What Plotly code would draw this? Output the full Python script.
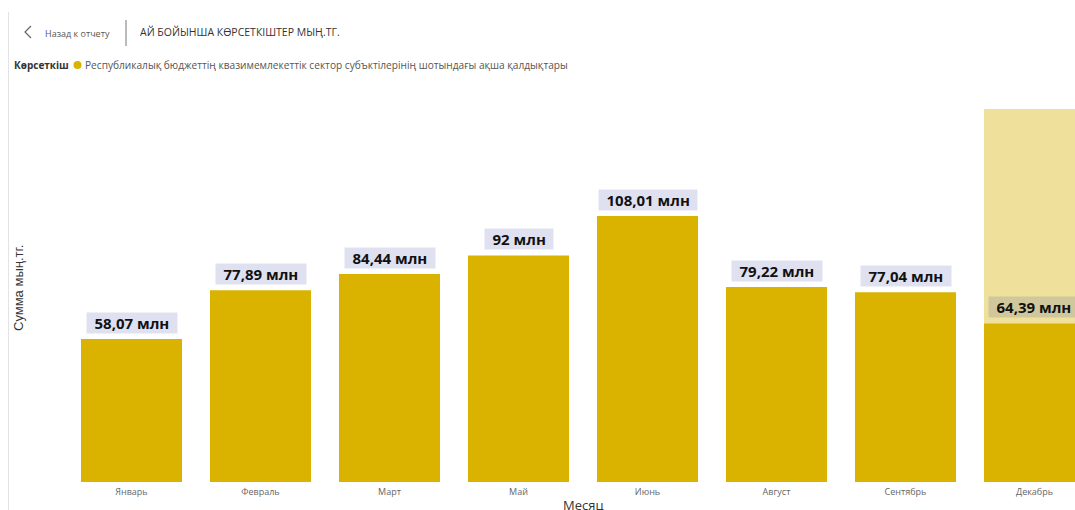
import plotly.graph_objects as go

months = ["Январь", "Февраль", "Март", "Май", "Июнь", "Август", "Сентябрь", "Декабрь"]
values = [58.07, 77.89, 84.44, 92, 108.01, 79.22, 77.04, 64.39]
labels = ["58,07 млн", "77,89 млн", "84,44 млн", "92 млн", "108,01 млн", "79,22 млн", "77,04 млн", "64,39 млн"]
highlighted = "Декабрь"

FONT = "Segoe UI, Open Sans, sans-serif"
BAR = "#D9B300"
HILITE = "#EFE09C"

W, H = 1075, 510
# plot area on screen: x 67..1075, y 109..482
SX0, SX1, SY0, SY1 = 67, 1075, 109, 482
L, R, T, B = SX0, W - SX1, SY0, H - SY1
BARGAP = 0.217


def px(sx):
    return (sx - SX0) / (SX1 - SX0)


def py(sy):
    return (SY1 - sy) / (SY1 - SY0)


fig = go.Figure()
fig.add_trace(go.Bar(
    x=list(range(len(months))), y=values, marker=dict(color=BAR, line=dict(width=0)),
    hoverinfo="skip", showlegend=False,
))

# highlighted column band (hover highlight in the original)
hi = months.index(highlighted)
half = (1 - BARGAP) / 2
fig.add_shape(type="rect", xref="x", yref="paper", x0=hi - half, x1=hi + half, y0=0, y1=1,
              fillcolor=HILITE, line=dict(width=0), layer="below")

PAD = "\u2002"
for i, (v, lab, m) in enumerate(zip(values, labels, months)):
    fig.add_annotation(
        x=i, y=v, xref="x", yref="y", text=f"{PAD}<b>{lab}</b>{PAD}", showarrow=False,
        yanchor="bottom", yshift=5,
        font=dict(family=FONT, size=15, color="#111111"),
        bgcolor="#D0C89C" if m == highlighted else "#DFE1F1",
        borderpad=0,
    )

fig.update_layout(
    width=W, height=H,
    margin=dict(l=L, r=R, t=T, b=B),
    paper_bgcolor="white", plot_bgcolor="white",
    bargap=BARGAP,
    font=dict(family=FONT),
    xaxis=dict(
        tickmode="array", tickvals=list(range(len(months))), ticktext=months,
        range=[-0.5, 7.314], showgrid=False, zeroline=False, showline=False,
        tickfont=dict(size=9, color="#666666"), ticks="", ticklen=0,
        ticklabelstandoff=3,
    ),
    yaxis=dict(range=[0, 151.5], visible=False, showgrid=False, zeroline=False),
    showlegend=False,
)

# axis titles
fig.add_annotation(x=px(583), y=py(505), xref="paper", yref="paper",
                   text="Месяц", showarrow=False, xanchor="center", yanchor="middle",
                   font=dict(family=FONT, size=13, color="#333333"))
fig.add_annotation(x=px(18), y=py(288), xref="paper", yref="paper",
                   text="Сумма мың.тг.", textangle=-90, showarrow=False, xanchor="center", yanchor="middle",
                   font=dict(family="Liberation Sans, Arial, sans-serif", size=13, color="#333333"))

# header: back chevron
fig.add_shape(type="path", xref="paper", yref="paper",
              path=f"M {px(31)} {py(26)} L {px(25)} {py(32)} L {px(31)} {py(38)}",
              line=dict(color="#666666", width=1.2))
fig.add_annotation(x=px(43), y=py(33), xref="paper", yref="paper", text="Назад к отчету", showarrow=False,
                   xanchor="left", yanchor="middle", font=dict(family=FONT, size=9, color="#555555"))
fig.add_annotation(x=px(138), y=py(32), xref="paper", yref="paper", text="АЙ БОЙЫНША КӨРСЕТКІШТЕР МЫҢ.ТГ.",
                   showarrow=False, xanchor="left", yanchor="middle",
                   font=dict(family=FONT, size=10.5, color="#333333"))

# legend
fig.add_annotation(x=px(12), y=py(65), xref="paper", yref="paper", text="<b>Көрсеткіш</b>",
                   showarrow=False, xanchor="left", yanchor="middle",
                   font=dict(family=FONT, size=10, color="#333333"))
fig.add_shape(type="circle", xref="paper", yref="paper", x0=px(73.5), x1=px(81.5), y0=py(61), y1=py(69),
              fillcolor=BAR, line=dict(width=0))
fig.add_annotation(x=px(83), y=py(65), xref="paper", yref="paper",
                   text="Республикалық бюджеттің квазимемлекеттік сектор субъктілерінің шотындағы ақша қалдықтары",
                   showarrow=False, xanchor="left", yanchor="middle",
                   font=dict(family=FONT, size=10.15, color="#555555"))

# separator lines
fig.add_shape(type="line", xref="paper", yref="paper", x0=px(126), x1=px(126), y0=py(20), y1=py(46),
              line=dict(color="#777777", width=1))
fig.add_shape(type="line", xref="paper", yref="paper", x0=px(8.5), x1=px(8.5), y0=py(12), y1=py(510),
              line=dict(color="#E3E3E3", width=1))

fig.write_html("out.html", config={"displayModeBar": False},
               post_script="document.body.style.margin='0';document.body.style.overflow='hidden';")
